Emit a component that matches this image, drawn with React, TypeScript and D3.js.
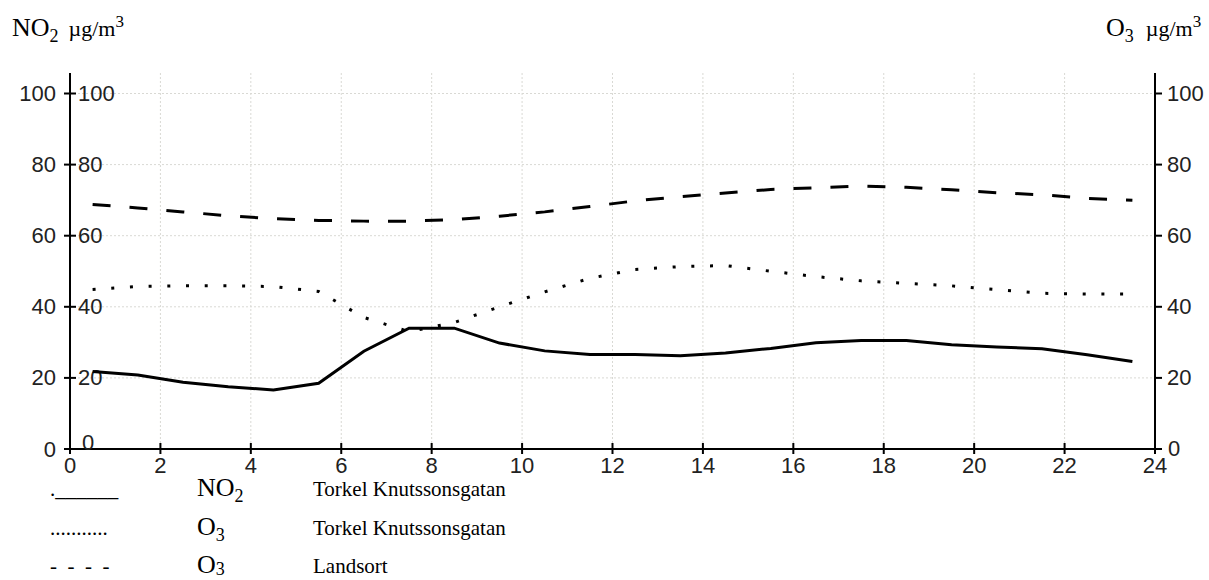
import React from "react";
import * as d3 from "d3";

const hours = [0.5, 1.5, 2.5, 3.5, 4.5, 5.5, 6.5, 7.5, 8.5, 9.5, 10.5, 11.5, 12.5, 13.5, 14.5, 15.5, 16.5, 17.5, 18.5, 19.5, 20.5, 21.5, 22.5, 23.5];
const no2Torkel = [21.8, 20.8, 18.8, 17.5, 16.6, 18.5, 27.5, 34.0, 34.0, 29.8, 27.6, 26.6, 26.6, 26.2, 27.0, 28.3, 29.9, 30.5, 30.5, 29.3, 28.7, 28.2, 26.5, 24.6];
const o3Torkel = [44.9, 45.7, 45.9, 45.9, 45.7, 44.3, 37.0, 33.0, 35.6, 40.0, 44.2, 48.0, 50.5, 51.3, 51.6, 50.0, 48.5, 47.3, 46.6, 45.9, 44.8, 43.8, 43.6, 43.6];
const o3Landsort = [68.8, 67.8, 66.7, 65.6, 64.8, 64.3, 64.1, 64.1, 64.5, 65.5, 66.7, 68.2, 69.8, 71.0, 72.0, 73.0, 73.5, 74.0, 73.6, 72.9, 72.1, 71.5, 70.5, 70.0];

const xTicks = [0, 2, 4, 6, 8, 10, 12, 14, 16, 18, 20, 22, 24];
const yTicks = [0, 20, 40, 60, 80, 100];

const W = 1209;
const H = 580;
const X0 = 70;
const X1 = 1155;
const Y0 = 449;
const Y100 = 93.5;
const YTOP = 73;

const tickFont = "'Liberation Sans', Arial, sans-serif";
const serif = "'Liberation Serif', 'Times New Roman', serif";

export default function App() {
  const x = d3.scaleLinear().domain([0, 24]).range([X0, X1]);
  const y = d3.scaleLinear().domain([0, 100]).range([Y0, Y100]);
  const line = d3
    .line<number>()
    .x((_, i) => x(hours[i]))
    .y((d) => y(d));

  return (
    <svg
      width={W}
      height={H}
      style={{ position: "absolute", left: 0, top: 0, background: "#fff" }}
    >
      {/* grid */}
      {xTicks.slice(1, -1).map((t) => (
        <line key={"gx" + t} x1={x(t)} x2={x(t)} y1={YTOP} y2={Y0} stroke="#d9d9d4" strokeWidth={1} strokeDasharray="2 2" />
      ))}
      {yTicks.slice(1).map((t) => (
        <line key={"gy" + t} x1={X0} x2={X1} y1={y(t)} y2={y(t)} stroke="#d9d9d4" strokeWidth={1} strokeDasharray="2 2" />
      ))}

      {/* axes */}
      <line x1={X0} x2={X0} y1={YTOP} y2={Y0 + 1} stroke="#000" strokeWidth={2} />
      <line x1={X1} x2={X1} y1={YTOP} y2={Y0 + 1} stroke="#000" strokeWidth={2} />
      <line x1={X0 - 6} x2={X1 + 1} y1={Y0} y2={Y0} stroke="#000" strokeWidth={2} />

      {/* left ticks and labels */}
      {yTicks.map((t) => (
        <g key={"ly" + t}>
          <line x1={X0 - 6} x2={X0 + 6} y1={y(t)} y2={y(t)} stroke="#000" strokeWidth={2} />
          <text x={56} y={y(t)} textAnchor="end" dominantBaseline="central" fontFamily={tickFont} fontSize={22} fill="#222">{t}</text>
          {t === 0 ? (
            <text x={82} y={y(t) + 1} textAnchor="start" fontFamily={tickFont} fontSize={22} fill="#222">{t}</text>
          ) : (
            <text x={78} y={y(t)} textAnchor="start" dominantBaseline="central" fontFamily={tickFont} fontSize={22} fill="#222">{t}</text>
          )}
        </g>
      ))}

      {/* right ticks and labels */}
      {yTicks.map((t) => (
        <g key={"ry" + t}>
          <line x1={X1} x2={X1 + 7} y1={y(t)} y2={y(t)} stroke="#000" strokeWidth={2} />
          <text x={t === 0 ? 1168 : 1167} y={t === 0 ? y(t) - 1 : y(t)} textAnchor="start" dominantBaseline="central" fontFamily={tickFont} fontSize={22} fill="#222">{t}</text>
        </g>
      ))}

      {/* x ticks and labels */}
      {xTicks.map((t) => (
        <g key={"xt" + t}>
          <line x1={x(t)} x2={x(t)} y1={Y0 - 6} y2={Y0 + 5} stroke="#000" strokeWidth={2} />
          <text x={x(t)} y={Y0 + 16} textAnchor="middle" dominantBaseline="central" fontFamily={tickFont} fontSize={22} fill="#222">{t}</text>
        </g>
      ))}

      {/* series */}
      <path d={line(o3Landsort) || ""} fill="none" stroke="#000" strokeWidth={3} strokeDasharray="18 19" />
      <path d={line(o3Torkel) || ""} fill="none" stroke="#000" strokeWidth={3} strokeDasharray="3 15.7" />
      <path d={line(no2Torkel) || ""} fill="none" stroke="#000" strokeWidth={3} />

      {/* headers */}
      <text x={12} y={36} fontFamily={serif} fontSize={26} fill="#000">
        NO<tspan fontSize={18} dy={6}>2</tspan>
        <tspan fontSize={22} dx={10} dy={-6}>µg/m</tspan>
        <tspan fontSize={17} dy={-9}>3</tspan>
      </text>
      <text x={1106} y={36} fontFamily={serif} fontSize={26} fill="#000">
        O<tspan fontSize={18} dy={6}>3</tspan>
        <tspan fontSize={22} dx={12} dy={-6}>µg/m</tspan>
        <tspan fontSize={17} dy={-9}>3</tspan>
      </text>

      {/* legend */}
      <g fontFamily={serif} fill="#000">
        <text x={50} y={496} fontSize={21} style={{ whiteSpace: "pre" }}>.______</text>
        <text x={197} y={496} fontSize={26}>NO<tspan fontSize={18} dy={6}>2</tspan></text>
        <text x={313} y={496} fontSize={21}>Torkel Knutssonsgatan</text>

        <text x={50} y={535} fontSize={21} style={{ whiteSpace: "pre" }}>...........</text>
        <text x={197} y={535} fontSize={26}>O<tspan fontSize={18} dy={6}>3</tspan></text>
        <text x={313} y={535} fontSize={21}>Torkel Knutssonsgatan</text>

        <text x={50} y={573} fontSize={21} style={{ whiteSpace: "pre" }}>-  -  -  -</text>
        <text x={197} y={573} fontSize={26}>O<tspan fontSize={18} dy={2}>3</tspan></text>
        <text x={313} y={573} fontSize={21}>Landsort</text>
      </g>
    </svg>
  );
}
